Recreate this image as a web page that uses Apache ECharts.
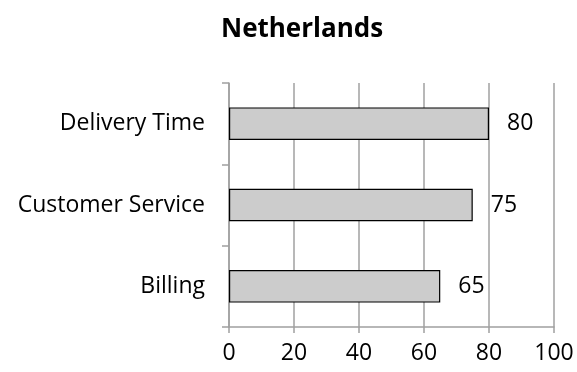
<!DOCTYPE html>
<html>
<head>
<meta charset="utf-8">
<script src="https://cdn.jsdelivr.net/npm/echarts@6/dist/echarts.min.js"></script>
<style>
  html, body { margin: 0; padding: 0; background: #fff; }
  #chart { width: 577px; height: 372px; }
</style>
</head>
<body>
<div id="chart"></div>
<script>
// Survey scores by area, listed bottom to top
const categories = ['Billing', 'Customer Service', 'Delivery Time'];
const scores = [65, 75, 80];
const xTicks = { min: 0, max: 100, interval: 20 };
const titleText = 'Netherlands';

const font = '"Open Sans", "Noto Sans", sans-serif';
const axisGrey = '#a0a0a0';

const chart = echarts.init(document.getElementById('chart'), null, { renderer: 'canvas' });
chart.setOption({
  animation: false,
  backgroundColor: '#ffffff',
  title: {
    text: titleText,
    left: 216,
    top: 12,
    textStyle: { fontFamily: font, fontSize: 26, fontWeight: 'bold', color: '#000' }
  },
  grid: { left: 229, right: 23, top: 83, bottom: 45, containLabel: false },
  xAxis: {
    type: 'value',
    min: xTicks.min,
    max: xTicks.max,
    interval: xTicks.interval,
    axisLine: { show: true, lineStyle: { color: axisGrey, width: 1.5 } },
    axisTick: { show: true, length: 6, lineStyle: { color: axisGrey, width: 1.5 } },
    axisLabel: { color: '#000', fontFamily: font, fontSize: 23, margin: 15 },
    splitLine: { show: true, lineStyle: { color: axisGrey, width: 1.5 } }
  },
  yAxis: {
    type: 'category',
    data: categories,
    axisLine: { show: true, lineStyle: { color: axisGrey, width: 1.5 } },
    axisTick: { show: true, length: 7, alignWithLabel: false, lineStyle: { color: axisGrey, width: 1.5 } },
    axisLabel: { color: '#000', fontFamily: font, fontSize: 23, margin: 24 },
    splitLine: { show: false }
  },
  series: [{
    type: 'bar',
    data: scores,
    barWidth: '40%',
    itemStyle: { color: '#cccccc', borderColor: '#000', borderWidth: 1.2 },
    label: {
      show: true,
      position: 'right',
      distance: 18,
      color: '#000',
      fontFamily: font,
      fontSize: 23
    }
  }]
});
</script>
</body>
</html>
